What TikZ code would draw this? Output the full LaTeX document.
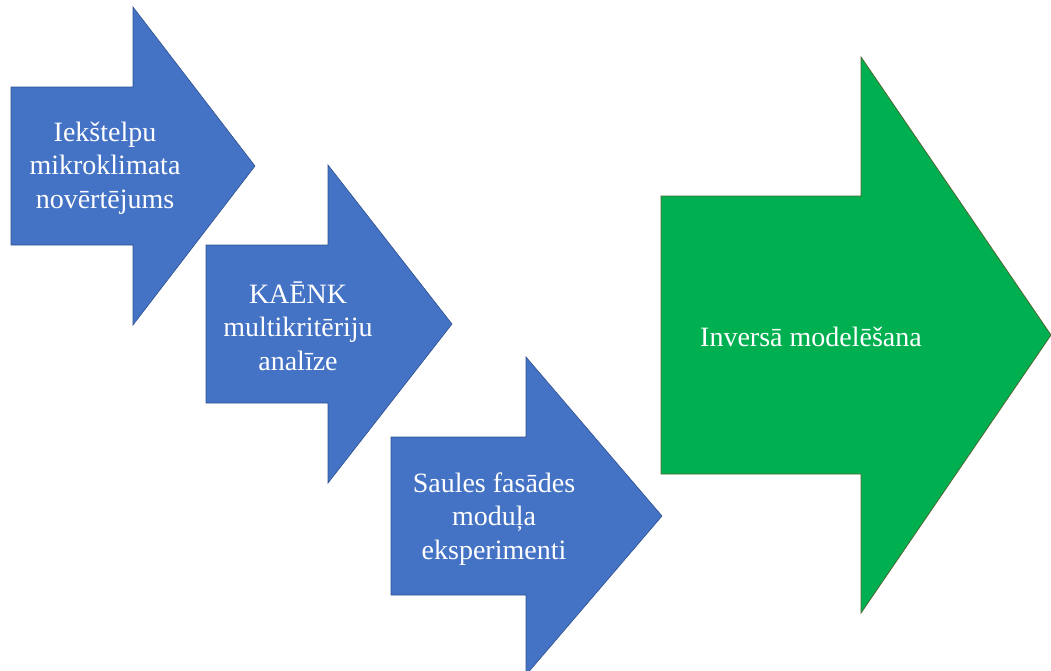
\documentclass[tikz,border=0pt]{standalone}
\usepackage{fontspec}
\setmainfont{Liberation Serif}
\usepackage{tikz}
\usetikzlibrary{positioning}

\definecolor{arrowblue}{RGB}{68,114,196}
\definecolor{edgeblue}{RGB}{47,82,143}
\definecolor{arrowgreen}{RGB}{0,176,80}
\definecolor{edgegreen}{RGB}{78,104,48}

\tikzset{
  bluearrow/.style={fill=arrowblue, draw=edgeblue, line width=0.6pt, line join=miter},
  greenarrow/.style={fill=arrowgreen, draw=edgegreen, line width=0.8pt, line join=miter},
  arrowtext/.style={text=white, align=center, inner sep=0pt, font=\fontsize{28}{33.5}\selectfont}
}

\begin{document}
\begin{tikzpicture}[x=1pt,y=-1pt]
  \useasboundingbox (0,0) rectangle (1051,670);
  \begin{scope}
    \clip (0,0) rectangle (1051,670);
    \draw [bluearrow] (11,87) -- (133,87) -- (133,7) -- (255,166) -- (133,325) -- (133,245) -- (11,245) -- cycle;
    \draw [bluearrow] (206,245) -- (328,245) -- (328,165) -- (452,324) -- (328,483) -- (328,403) -- (206,403) -- cycle;
    \draw [bluearrow] (391,437) -- (526,437) -- (526,357) -- (662,516) -- (526,675) -- (526,595) -- (391,595) -- cycle;
    \draw [greenarrow] (661,196) -- (861,196) -- (861,57) -- (1051,335) -- (861,613) -- (861,474) -- (661,474) -- cycle;
  \end{scope}
  \node [arrowtext] (indoor) at (105,168) {Iekštelpu\\mikroklimata\\novērtējums};
  \node [arrowtext] (mcda) at (298,326) {KAĒNK\\multikritēriju\\analīze};
  \node [arrowtext] (facade) at (494,519) {Saules fasādes\\moduļa\\eksperimenti};
  \node [arrowtext, anchor=base] (inverse) at (811,346) {Inversā modelēšana};
\end{tikzpicture}
\end{document}
